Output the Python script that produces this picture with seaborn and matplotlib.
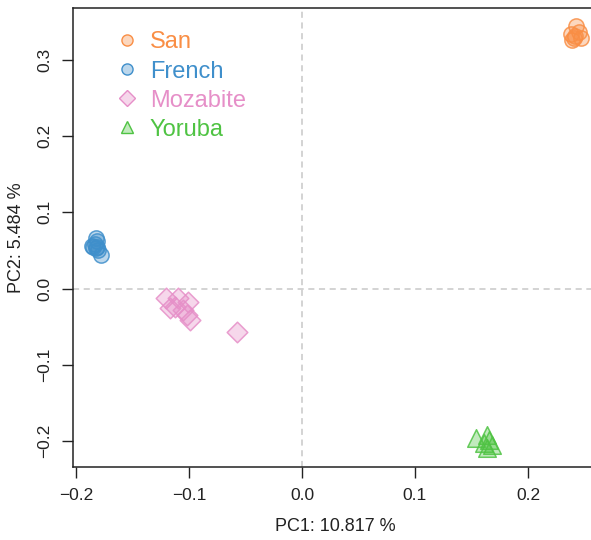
import matplotlib
matplotlib.use("Agg")
import matplotlib.pyplot as plt
import seaborn as sns
import pandas as pd
from matplotlib.lines import Line2D

sns.set_style("white")
plt.rcParams['font.family'] = ['Liberation Sans', 'DejaVu Sans']

san_x = [0.2424, 0.2380, 0.2450, 0.2468, 0.2406, 0.2389, 0.2415]
san_y = [0.3446, 0.3340, 0.3367, 0.3289, 0.3289, 0.3262, 0.3315]
french_x = [-0.1823, -0.1815, -0.1859, -0.1823, -0.1806, -0.1780, -0.1832, -0.1815, -0.1850]
french_y = [0.0664, 0.0625, 0.0559, 0.0533, 0.0507, 0.0441, 0.0585, 0.0546, 0.0546]
moz_x = [-0.1205, -0.1100, -0.1011, -0.1170, -0.1055, -0.1020, -0.0993, -0.1126, -0.0578]
moz_y = [-0.0123, -0.0123, -0.0176, -0.0255, -0.0281, -0.0346, -0.0412, -0.0241, -0.0570]
yor_x = [0.1541, 0.1638, 0.1656, 0.1638, 0.1682, 0.1611]
yor_y = [-0.1960, -0.1924, -0.1990, -0.2092, -0.2052, -0.2026]

groups = ["San", "French", "Mozabite", "Yoruba"]
colors = {"San": "#F98E45", "French": "#3F8FCB", "Mozabite": "#E68FC8", "Yoruba": "#4FC343"}
markers = {"San": "o", "French": "o", "Mozabite": "D", "Yoruba": "^"}
sizes = {"San": 120, "French": 120, "Mozabite": 110, "Yoruba": 160}

df = pd.concat([
    pd.DataFrame({"PC1": san_x, "PC2": san_y, "pop": "San"}),
    pd.DataFrame({"PC1": french_x, "PC2": french_y, "pop": "French"}),
    pd.DataFrame({"PC1": moz_x, "PC2": moz_y, "pop": "Mozabite"}),
    pd.DataFrame({"PC1": yor_x, "PC2": yor_y, "pop": "Yoruba"}),
], ignore_index=True)

fig = plt.figure(figsize=(5.91, 5.40), dpi=100)
ax = fig.add_axes([73/591, 73/540, (598-73)/591, (467-8)/540])

ax.axvline(0, color="#c8c8c8", ls=(0, (4, 3)), lw=1.1, zorder=0)
ax.axhline(0, color="#c8c8c8", ls=(0, (4, 3)), lw=1.1, zorder=0)

for g in groups:
    sub = df[df["pop"] == g]
    c = colors[g]
    sns.scatterplot(data=sub, x="PC1", y="PC2", ax=ax, marker=markers[g], s=sizes[g],
                    facecolor=matplotlib.colors.to_rgba(c, 0.35),
                    edgecolor=matplotlib.colors.to_rgba(c, 0.85), linewidth=1.1,
                    legend=False, zorder=3)

ax.set_xlim(-0.2026, 0.262)
ax.set_ylim(-0.234, 0.368)
ax.set_xticks([-0.2, -0.1, 0.0, 0.1, 0.2])
ax.set_xticklabels(["\u22120.2", "\u22120.1", "0.0", "0.1", "0.2"])
ax.set_yticks([-0.2, -0.1, 0.0, 0.1, 0.2, 0.3])
ax.set_yticklabels(["\u22120.2", "\u22120.1", "0.0", "0.1", "0.2", "0.3"], rotation=90, va="center")
ax.tick_params(axis="both", direction="out", length=8, width=1, color="#222222",
               labelsize=12.5, labelcolor="#222222", bottom=True, left=True, pad=7)
ax.set_xlabel("PC1: 10.817 %", fontsize=13, color="#222222", labelpad=11)
ax.set_ylabel("PC2: 5.484 %", fontsize=13, color="#222222", labelpad=9)
for s in ["left", "bottom", "top"]:
    ax.spines[s].set_visible(True)
    ax.spines[s].set_color("#222222")
    ax.spines[s].set_linewidth(1.1)
ax.spines["right"].set_visible(False)

handles = []
for g in groups:
    c = colors[g]
    handles.append(Line2D([], [], ls="none", marker=markers[g], markersize=8 if g != "Yoruba" else 9,
                          markerfacecolor=matplotlib.colors.to_rgba(c, 0.35),
                          markeredgecolor=c, markeredgewidth=1.0))
leg = ax.legend(handles, groups, loc="upper left", bbox_to_anchor=(0.045, 0.99), frameon=False,
                fontsize=17, labelspacing=0.3, handletextpad=0.45, handlelength=1.0, borderpad=0.3)
for t, g in zip(leg.get_texts(), groups):
    t.set_color(colors[g])

fig.savefig("out.png", dpi=100)
